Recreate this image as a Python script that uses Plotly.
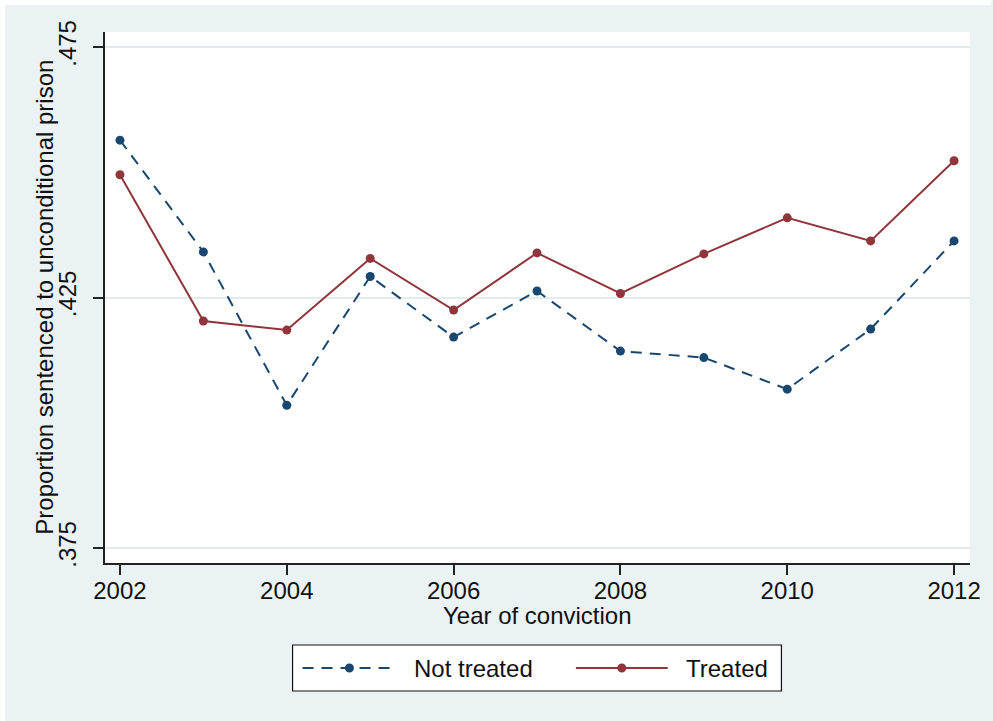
import plotly.graph_objects as go

# Year of conviction
years = [2002, 2003, 2004, 2005, 2006, 2007, 2008, 2009, 2010, 2011, 2012]

# Proportion sentenced to unconditional prison, by group
not_treated = [0.4564, 0.4341, 0.4035, 0.4292, 0.4171, 0.4263, 0.4143, 0.4130, 0.4067, 0.4187, 0.4363]
treated = [0.4495, 0.4203, 0.4185, 0.4328, 0.4225, 0.4339, 0.4258, 0.4337, 0.4409, 0.4363, 0.4523]

# Axis ticks
x_ticks = [2002, 2004, 2006, 2008, 2010, 2012]
y_ticks = [0.375, 0.425, 0.475]
y_tick_labels = [".375", ".425", ".475"]

series_names = ["Not treated", "Treated"]
x_title = "Year of conviction"
y_title = "Proportion sentenced to unconditional prison"

NAVY = "#1A476F"
MAROON = "#90353B"
BG = "#EAF2F3"
TXT = "#111"
FONT = "Liberation Sans, Arial, sans-serif"
DASH = "11px,8px"

W, H = 993, 721
L, R, T, B = 105, 972, 32, 563  # plot area in pixels


def px(x):
    return (x - L) / (R - L)


def py(y):
    return (B - y) / (B - T)


fig = go.Figure()
fig.add_trace(go.Scatter(
    x=years, y=not_treated, mode="lines+markers", name=series_names[0],
    line=dict(color=NAVY, width=2, dash=DASH),
    marker=dict(color=NAVY, size=9, symbol="circle"),
    showlegend=False,
))
fig.add_trace(go.Scatter(
    x=years, y=treated, mode="lines+markers", name=series_names[1],
    line=dict(color=MAROON, width=2),
    marker=dict(color=MAROON, size=9, symbol="circle"),
    showlegend=False,
))

shapes = []
annotations = []

# thin white margin along the top and left edges of the canvas
shapes.append(dict(type="rect", xref="paper", yref="paper",
                   x0=px(0), x1=px(W), y0=py(0), y1=py(5),
                   fillcolor="white", line=dict(width=0), layer="below"))
shapes.append(dict(type="rect", xref="paper", yref="paper",
                   x0=px(0), x1=px(5), y0=py(0), y1=py(H),
                   fillcolor="white", line=dict(width=0), layer="below"))

# legend box
shapes.append(dict(type="rect", xref="paper", yref="paper",
                   x0=px(293), x1=px(783), y0=py(645), y1=py(691),
                   fillcolor="white", line=dict(color=TXT, width=1.2)))

legend_items = [
    (series_names[0], NAVY, DASH, 303, 397, 413),
    (series_names[1], MAROON, "solid", 577, 669, 685),
]
ly = 668
for name, color, dash, x0, x1, tx in legend_items:
    shapes.append(dict(type="line", xref="paper", yref="paper",
                       x0=px(x0), x1=px(x1), y0=py(ly), y1=py(ly),
                       line=dict(color=color, width=2, dash=dash)))
    cx = px((x0 + x1) / 2)
    cy = py(ly)
    shapes.append(dict(type="circle", xref="paper", yref="paper",
                       xsizemode="pixel", ysizemode="pixel",
                       xanchor=cx, yanchor=cy,
                       x0=-4.5, x1=4.5, y0=-4.5, y1=4.5,
                       fillcolor=color, line=dict(color=color, width=0)))
    annotations.append(dict(xref="paper", yref="paper", x=px(tx), y=cy,
                            xanchor="left", yanchor="middle", showarrow=False,
                            text=name, font=dict(family=FONT, size=24, color=TXT)))

# axis titles
annotations.append(dict(xref="paper", yref="paper", x=0.5, y=py(615),
                        xanchor="center", yanchor="middle", showarrow=False,
                        text=x_title, font=dict(family=FONT, size=24, color=TXT)))
annotations.append(dict(xref="paper", yref="paper", x=px(44), y=0.5,
                        xanchor="center", yanchor="middle", showarrow=False,
                        textangle=-90,
                        text=y_title, font=dict(family=FONT, size=24, color=TXT)))

fig.update_layout(
    width=W, height=H, autosize=False,
    margin=dict(l=L, r=W - R, t=T, b=H - B, pad=0),
    paper_bgcolor=BG, plot_bgcolor="white",
    font=dict(family=FONT, size=24, color=TXT),
    shapes=shapes, annotations=annotations,
    showlegend=False,
)

fig.update_xaxes(
    range=[2001.8206, 2012.191],
    tickvals=x_ticks, ticks="outside", ticklen=10, tickwidth=1.5, tickcolor="#222",
    showgrid=False, zeroline=False,
    showline=True, linecolor="#222", linewidth=1.5,
    tickfont=dict(family=FONT, size=24, color=TXT),
    ticklabelstandoff=-5,
)
fig.update_yaxes(
    range=[0.37201, 0.47799],
    tickvals=y_ticks, ticktext=y_tick_labels, tickangle=-90,
    ticks="outside", ticklen=10, tickwidth=1.5, tickcolor="#222",
    showgrid=True, gridcolor="#E1ECEE", gridwidth=1.5, zeroline=False,
    showline=True, linecolor="#222", linewidth=1.5,
    tickfont=dict(family=FONT, size=24, color=TXT),
    ticklabelstandoff=8,
)

fig.write_html("out.html")
